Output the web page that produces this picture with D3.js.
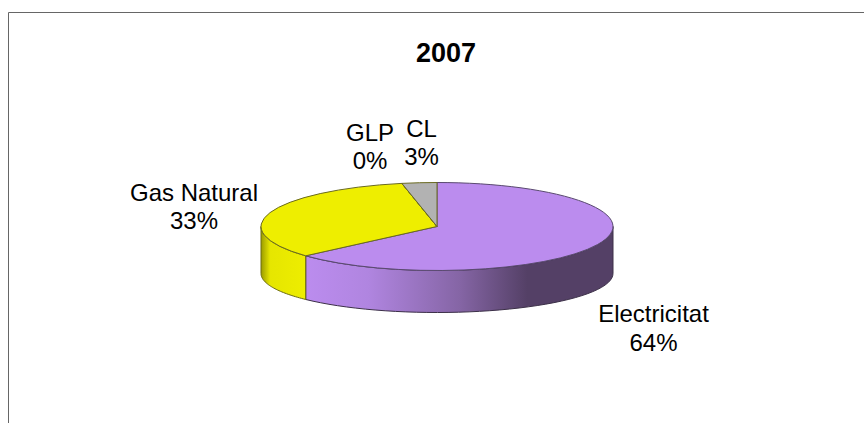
<!DOCTYPE html>
<html><head><meta charset="utf-8">
<script src="https://cdn.jsdelivr.net/npm/d3@7/dist/d3.min.js"></script>
<style>html,body{margin:0;padding:0;background:#fff}svg{display:block}text{font-family:"Liberation Sans",Arial,sans-serif;fill:#000}</style>
</head><body><svg id="c" width="864" height="423"></svg>
<script>
const categories=["Electricitat","Gas Natural","GLP","CL"];
const values=[63.4,33.4,0,3.2];
const percentLabels=["64%","33%","0%","3%"];
const colors=["#BB8CEE","#EEEE00","#FFFF99","#B2B2B2"];
const title="2007";
const W=864,H=423,cx=437,cy=226.5,rx=176,ry=44;
const svg=d3.select("#c");
svg.append("path").attr("d",`M8.5,${H}V12.5H${W}`).attr("fill","none").attr("stroke","#666");
const pie=d3.pie().sort(null).value(d=>d)(values);
const px=a=>cx+rx*Math.sin(a), py=a=>cy-ry*Math.cos(a);
const depth=a=>47+5*Math.cos(a);
const defs=svg.append("defs");
const g1=defs.append("linearGradient").attr("id","g0").attr("gradientUnits","userSpaceOnUse").attr("x1",307).attr("x2",613).attr("y1",0).attr("y2",0);
[[0,"#BB8CEE"],[.2,"#B085E0"],[.5,"#8565A5"],[.72,"#544066"],[1,"#544066"]].forEach(s=>g1.append("stop").attr("offset",s[0]).attr("stop-color",s[1]));
const g2=defs.append("linearGradient").attr("id","g1").attr("gradientUnits","userSpaceOnUse").attr("x1",262).attr("x2",307).attr("y1",0).attr("y2",0);
[[0,"#A3A300"],[.18,"#E6E600"],[1,"#EEEE00"]].forEach(s=>g2.append("stop").attr("offset",s[0]).attr("stop-color",s[1]));
const edge="#6a6a20";
pie.forEach((d,i)=>{
  const a0=Math.max(d.startAngle,Math.PI/2), a1=Math.min(d.endAngle,Math.PI*1.5);
  if(a1<=a0) return;
  const angles=d3.range(0,41).map(k=>a0+(a1-a0)*k/40);
  const top=angles.map(a=>[px(a),py(a)]);
  const bot=angles.slice().reverse().map(a=>[px(a),py(a)+depth(a)]);
  svg.append("path").attr("d",d3.line()(top.concat(bot))+"Z")
    .attr("fill",`url(#g${i})`).attr("stroke",i==0?"#3c3048":"#6a6a10").attr("stroke-width",1);
});
const arc=d3.arc().innerRadius(0).outerRadius(rx);
const face=svg.append("g").attr("transform",`translate(${cx},${cy}) scale(1,${ry/rx})`);
face.selectAll("path").data(pie).join("path").attr("d",arc)
  .attr("fill",(d,i)=>colors[i]).attr("stroke",(d,i)=>i==0?"#5a4a70":edge).attr("stroke-width",1)
  .attr("vector-effect","non-scaling-stroke");
const labelPos=[[653.5,322,351],[194,201,229],[370,141,169],[421.5,137,165]];
svg.append("text").attr("x",446).attr("y",62).attr("text-anchor","middle").attr("font-size",27).attr("font-weight","bold").text(title);
categories.forEach((c,i)=>{
  const t=svg.append("text").attr("text-anchor","middle").attr("font-size",24);
  t.append("tspan").attr("x",labelPos[i][0]).attr("y",labelPos[i][1]).text(c);
  t.append("tspan").attr("x",labelPos[i][0]).attr("y",labelPos[i][2]).text(percentLabels[i]);
});
</script></body></html>
